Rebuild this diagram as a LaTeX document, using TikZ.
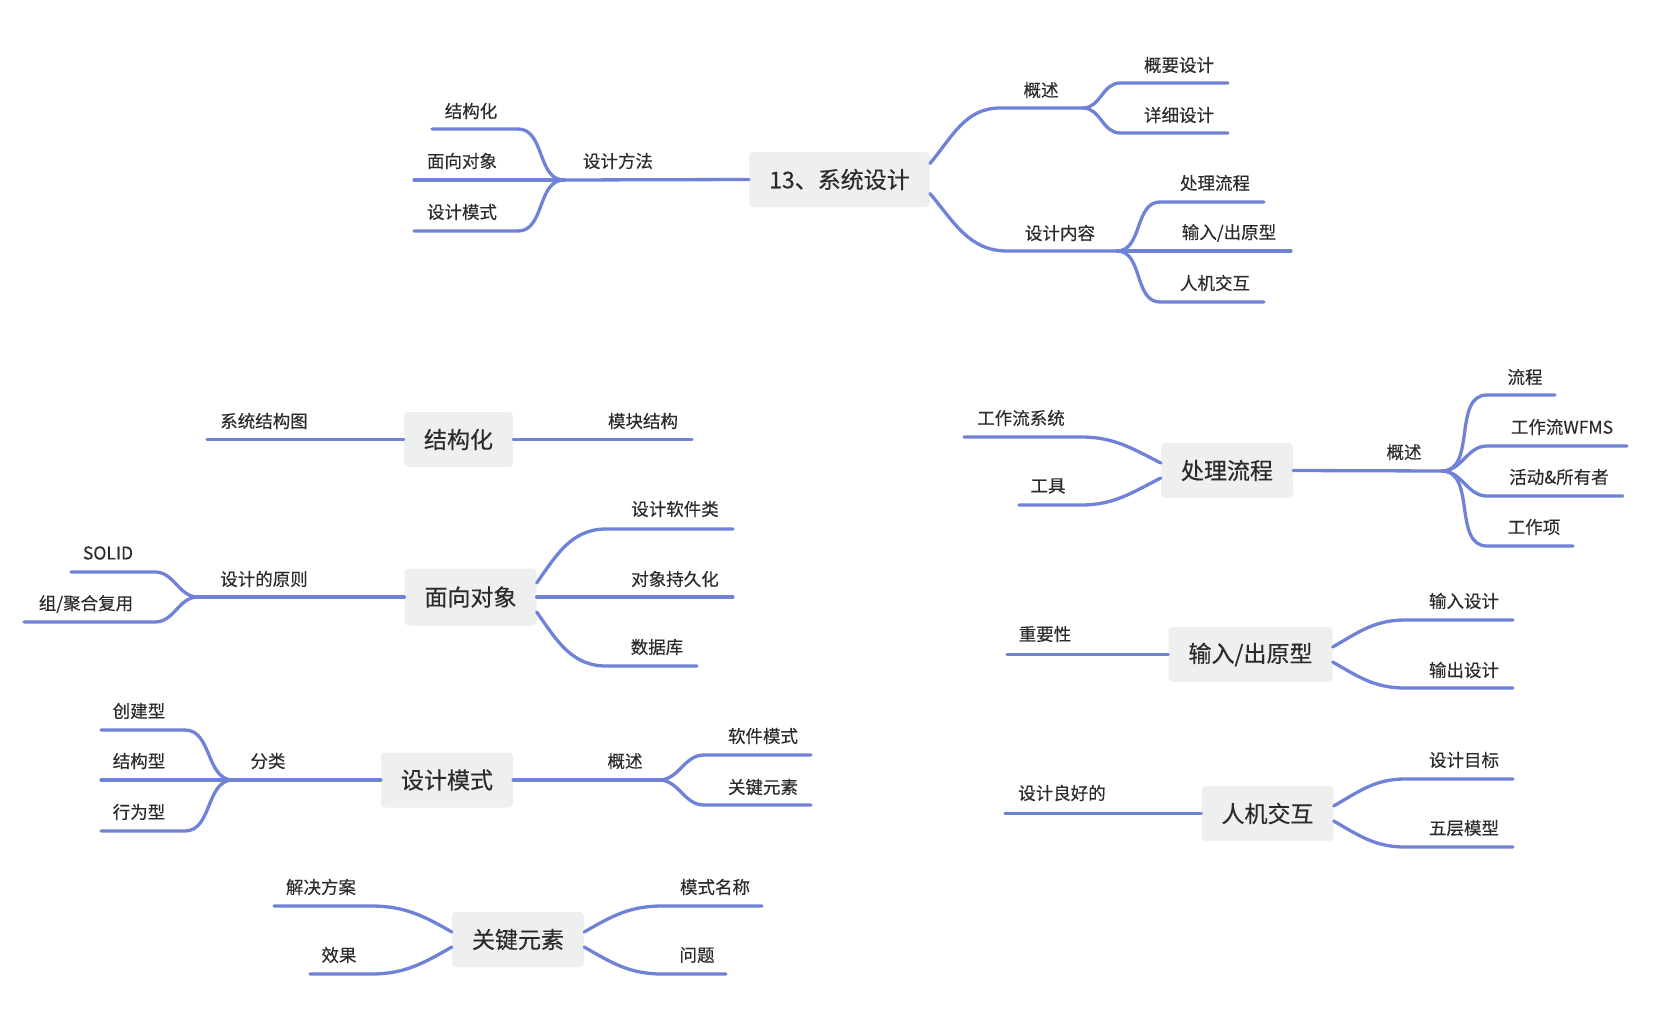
\documentclass[tikz,border=0pt]{standalone}
\usepackage{fontspec}
\setmainfont{Noto Sans CJK SC}
\usepackage{xcolor}
\definecolor{branchBlue}{HTML}{6F82D8}
\definecolor{hubGray}{HTML}{EEF0F0}
\definecolor{darkText}{HTML}{2B2B2B}
\usepackage{tikz}
\usetikzlibrary{positioning, calc}
\tikzset{
    % Base style for all texts
    topic base/.style={
        text=darkText,
        inner sep=0pt,
        anchor=center,
    },
    % Hub boxes - light gray rounded rectangle
    hub/.style={
        topic base,
        font=\fontsize{23}{27}\selectfont\addfontfeatures{FakeBold=0.4},
        rectangle,
        rounded corners=4pt,
        fill=hubGray,
        inner xsep=20pt,
        minimum height=55pt,
    },
    % Leaf labels sitting on their branch
    leaf/.style={
        topic base,
        font=\fontsize{17.5}{20}\selectfont\addfontfeatures{FakeBold=0.25},
    },
    % Branch lines - soft blue, round ends
    branch/.style={
        draw=branchBlue,
        line width=3.3pt,
        line cap=round,
        line join=round,
    },
    % Curves leaving to the right / to the left
    go right/.style={out=0, in=180},
    go left/.style={out=180, in=0},
}

\begin{document}
\begin{tikzpicture}[x=1pt, y=-1pt]
    \fill[white] (0,0) rectangle (1658,1036);
    \useasboundingbox (0,0) rectangle (1658,1036);

    % ---- 13、系统设计 ----
    \node (sys) [hub] at (839.5,179.5) {13、系统设计};

    \node (mth) [leaf] at (618,161) {设计方法};
    \coordinate (mthJ) at (564,180);
    \node (mth1) [leaf] at (471,111) {结构化};
    \node (mth2) [leaf] at (462,161) {面向对象};
    \node (mth3) [leaf] at (462,212) {设计模式};
    \draw [branch] (sys.west) -- (mthJ);
    \draw [branch] (mthJ) to[go left] (518,129) -- (432,129);
    \draw [branch] (mthJ) -- (414,180);
    \draw [branch] (mthJ) to[go left] (518,231) -- (414,231);

    \node (ovw) [leaf] at (1041,90) {概述};
    \coordinate (ovwJ) at (1083,108);
    \node (ovw1) [leaf] at (1179,65) {概要设计};
    \node (ovw2) [leaf] at (1179,115) {详细设计};
    \draw [branch] ([yshift=16pt]sys.east) to[out=50, in=180] (1000,108) -- (ovwJ);
    \draw [branch] (ovwJ) to[go right] (1120,83) -- (1228,83);
    \draw [branch] (ovwJ) to[go right] (1120,133) -- (1228,133);

    \node (cnt) [leaf] at (1060,233) {设计内容};
    \coordinate (cntJ) at (1117,251);
    \node (cnt1) [leaf] at (1215,183) {处理流程};
    \node (cnt2) [leaf] at (1229,233) {输入/出原型};
    \node (cnt3) [leaf] at (1215,283) {人机交互};
    \draw [branch] ([yshift=-14pt]sys.east) to[out=-50, in=180] (1007,251) -- (cntJ);
    \draw [branch] (cntJ) to[go right] (1160,202) -- (1264,202);
    \draw [branch] (cntJ) -- (1291,251);
    \draw [branch] (cntJ) to[go right] (1160,302) -- (1264,302);

    % ---- 结构化 ----
    \node (str) [hub] at (458.5,439.5) {结构化};
    \node (str1) [leaf] at (264,421) {系统结构图};
    \node (str2) [leaf] at (643,421) {模块结构};
    \draw [branch] (str.west) -- (207,439.5);
    \draw [branch] (str.east) -- (692,439.5);

    % ---- 面向对象 ----
    \node (oop) [hub, minimum height=57pt] at (470.5,597) {面向对象};
    \node (prn) [leaf] at (264,579) {设计的原则};
    \coordinate (prnJ) at (198,597);
    \node (prn1) [leaf] at (108,553) {SOLID};
    \node (prn2) [leaf] at (86,604) {组/聚合复用};
    \draw [branch] (oop.west) -- (prnJ);
    \draw [branch] (prnJ) to[go left] (155,572) -- (71,572);
    \draw [branch] (prnJ) to[go left] (155,622) -- (24,622);

    \node (oop1) [leaf] at (675,509) {设计软件类};
    \node (oop2) [leaf] at (675,579) {对象持久化};
    \node (oop3) [leaf] at (657,647) {数据库};
    \draw [branch] ([yshift=14pt]oop.east) to[out=55, in=180] (606,529) -- (733,529);
    \draw [branch] (oop.east) -- (733,597);
    \draw [branch] ([yshift=-15pt]oop.east) to[out=-55, in=180] (606,666) -- (697,666);

    % ---- 设计模式 ----
    \node (pat) [hub] at (447,780) {设计模式};
    \node (cls) [leaf] at (268,761) {分类};
    \coordinate (clsJ) at (233,780);
    \node (cls1) [leaf] at (139,711) {创建型};
    \node (cls2) [leaf] at (139,761) {结构型};
    \node (cls3) [leaf] at (139,812) {行为型};
    \draw [branch] (pat.west) -- (clsJ);
    \draw [branch] (clsJ) to[go left] (185,730) -- (101,730);
    \draw [branch] (clsJ) -- (101,780);
    \draw [branch] (clsJ) to[go left] (185,831) -- (101,831);

    \node (pov) [leaf] at (625,761) {概述};
    \coordinate (povJ) at (659,780);
    \node (pov1) [leaf] at (763,736) {软件模式};
    \node (pov2) [leaf] at (763,787) {关键元素};
    \draw [branch] (pat.east) -- (povJ);
    \draw [branch] (povJ) to[go right] (704,755) -- (811,755);
    \draw [branch] (povJ) to[go right] (704,805) -- (811,805);

    % ---- 关键元素 ----
    \node (key) [hub] at (518,939.5) {关键元素};
    \node (key1) [leaf] at (321,887) {解决方案};
    \node (key2) [leaf] at (339,955) {效果};
    \node (key3) [leaf] at (715,887) {模式名称};
    \node (key4) [leaf] at (697,955) {问题};
    \draw [branch] ([yshift=7.5pt]key.west) to[out=150, in=0] (371,906) -- (274,906);
    \draw [branch] ([yshift=-7.5pt]key.west) to[out=210, in=0] (371,974) -- (310,974);
    \draw [branch] ([yshift=7.5pt]key.east) to[out=30, in=180] (662,906) -- (762,906);
    \draw [branch] ([yshift=-7.5pt]key.east) to[out=-30, in=180] (662,974) -- (726,974);

    % ---- 处理流程 ----
    \node (flw) [hub] at (1227,470.5) {处理流程};
    \node (flw1) [leaf] at (1021,418) {工作流系统};
    \node (flw2) [leaf] at (1048,486) {工具};
    \draw [branch] ([yshift=7.5pt]flw.west) to[out=153, in=0] (1081,437) -- (964,437);
    \draw [branch] ([yshift=-7.5pt]flw.west) to[out=207, in=0] (1081,505) -- (1019,505);

    \node (fov) [leaf] at (1404,452) {概述};
    \coordinate (fovJ) at (1442,471);
    \node (fov1) [leaf] at (1525,377) {流程};
    \node (fov2) [leaf] at (1562,427) {工作流WFMS};
    \node (fov3) [leaf] at (1559,477) {活动\&所有者};
    \node (fov4) [leaf] at (1534,527) {工作项};
    \draw [branch] (flw.east) -- (fovJ);
    \draw [branch] (fovJ) to[go right] (1487,395) -- (1555,395);
    \draw [branch] (fovJ) to[go right] (1487,446) -- (1627,446);
    \draw [branch] (fovJ) to[go right] (1487,496) -- (1623,496);
    \draw [branch] (fovJ) to[go right] (1487,546) -- (1573,546);

    % ---- 输入/出原型 ----
    \node (io) [hub] at (1250.5,654.5) {输入/出原型};
    \node (io1) [leaf] at (1045,634) {重要性};
    \node (io2) [leaf] at (1464,601) {输入设计};
    \node (io3) [leaf] at (1464,670) {输出设计};
    \draw [branch] (io.west) -- (1007,654.5);
    \draw [branch] ([yshift=7.5pt]io.east) to[out=30, in=180] (1405,620) -- (1513,620);
    \draw [branch] ([yshift=-7.5pt]io.east) to[out=-30, in=180] (1405,688) -- (1513,688);

    % ---- 人机交互 ----
    \node (hci) [hub] at (1267.5,813.5) {人机交互};
    \node (hci1) [leaf] at (1062,793) {设计良好的};
    \node (hci2) [leaf] at (1464,760) {设计目标};
    \node (hci3) [leaf] at (1464,828) {五层模型};
    \draw [branch] (hci.west) -- (1005,813.5);
    \draw [branch] ([yshift=7.5pt]hci.east) to[out=30, in=180] (1405,779) -- (1513,779);
    \draw [branch] ([yshift=-7.5pt]hci.east) to[out=-30, in=180] (1405,847) -- (1513,847);
\end{tikzpicture}
\end{document}
